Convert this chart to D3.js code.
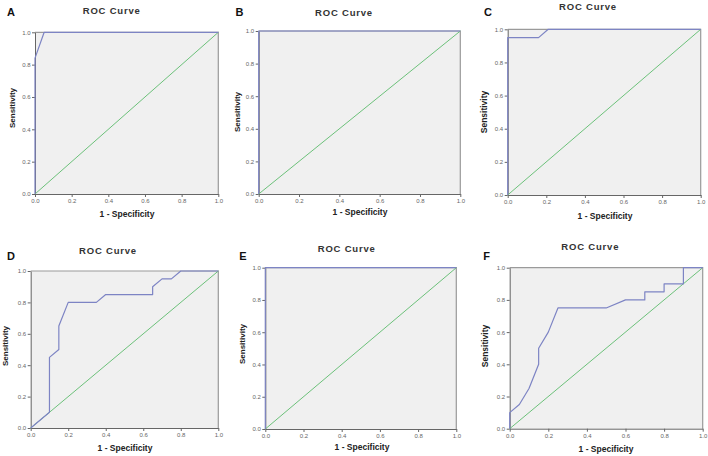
<!DOCTYPE html>
<html>
<head>
<meta charset="utf-8">
<script src="https://cdn.jsdelivr.net/npm/d3@7/dist/d3.min.js"></script>
<style>
  html, body { margin: 0; padding: 0; background: #ffffff; }
  svg { display: block; font-family: Arial, "Liberation Sans", sans-serif; }
</style>
</head>
<body>
<svg id="chart" width="708" height="456"></svg>
<script>
// ---- Data ----
const panelLabels = ["A", "B", "C", "D", "E", "F"];
const chartTitle = "ROC Curve";
const xAxisTitle = "1 - Specificity";
const yAxisTitle = "Sensitivity";
const tickValues = [0, 0.2, 0.4, 0.6, 0.8, 1.0];
const reference = [[0, 0], [1, 1]];

// ROC curves: [1 - specificity, sensitivity]
const rocA = [[0, 0], [0, 0.84], [0.05, 1], [1, 1]];
const rocB = [[0, 0], [0, 1], [1, 1]];
const rocC = [[0, 0], [0, 0.95], [0.16, 0.95], [0.21, 1], [1, 1]];
const rocD = [[0, 0], [0.1, 0.1], [0.1, 0.45], [0.15, 0.5], [0.15, 0.65], [0.2, 0.8],
              [0.35, 0.8], [0.4, 0.85], [0.65, 0.85], [0.65, 0.9], [0.7, 0.95],
              [0.75, 0.95], [0.8, 1], [1, 1]];
const rocE = [[0, 0], [0, 1], [1, 1]];
const rocF = [[0, 0], [0, 0.1], [0.05, 0.15], [0.1, 0.25], [0.15, 0.4], [0.15, 0.5],
              [0.2, 0.6], [0.25, 0.75], [0.5, 0.75], [0.6, 0.8], [0.7, 0.8], [0.7, 0.85],
              [0.8, 0.85], [0.8, 0.9], [0.9, 0.9], [0.9, 1], [1, 1]];
const rocCurves = [rocA, rocB, rocC, rocD, rocE, rocF];

// ---- Layout (per panel) ----
const layout = [
  { l: 35,    r: 218.3, t: 32.3,  b: 194,  title: [111.7, 10],  letter: [11, 12],   xl: [127, 214],  yl: [12, 108],    ys: 8 },
  { l: 258.7, r: 460.3, t: 31,    b: 194,  title: [344, 12],    letter: [239.5, 12], xl: [360, 212],  yl: [237, 112],   ys: 8 },
  { l: 507.7, r: 700.7, t: 29.3,  b: 195,  title: [588, 6.5],   letter: [488, 12],   xl: [605, 216],  yl: [483.7, 112], ys: 8.5 },
  { l: 30.7,  r: 218.3, t: 271,   b: 428,  title: [108, 250],   letter: [11, 256],   xl: [125, 448],  yl: [5, 346],     ys: 8 },
  { l: 265.3, r: 456.3, t: 267.7, b: 429,  title: [346.7, 248], letter: [243, 256],  xl: [362, 446.7], yl: [242.7, 344], ys: 8 },
  { l: 509.7, r: 702.7, t: 267.7, b: 428.7, title: [590.3, 246], letter: [486.5, 255.5], xl: [606, 448.7], yl: [484.7, 346], ys: 8.5 }
];

const svg = d3.select("#chart");
const blue = "#7d84c4";
const green = "#6cc17a";

panelLabels.forEach((lab, i) => {
  const L = layout[i];
  const x = d3.scaleLinear().domain([0, 1]).range([L.l, L.r]);
  const y = d3.scaleLinear().domain([0, 1]).range([L.b, L.t]);
  const g = svg.append("g");

  // plot background
  g.append("rect")
    .attr("x", x(0)).attr("y", y(1))
    .attr("width", x(1) - x(0)).attr("height", y(0) - y(1))
    .attr("fill", "#f0f0f0");
  // top and right frame
  g.append("path")
    .attr("d", `M${x(0)},${y(1)}H${x(1)}V${y(0)}`)
    .attr("fill", "none").attr("stroke", "#9a9a9a").attr("stroke-width", 1.2);

  // axes
  const fmt = d3.format(".1f");
  const xAxis = g.append("g").attr("transform", `translate(0,${y(0)})`)
    .call(d3.axisBottom(x).tickValues(tickValues).tickFormat(fmt).tickSize(3).tickSizeOuter(0));
  const yAxis = g.append("g").attr("transform", `translate(${x(0)},0)`)
    .call(d3.axisLeft(y).tickValues(tickValues).tickFormat(fmt).tickSize(3).tickSizeOuter(0));
  [xAxis, yAxis].forEach(a => {
    a.select(".domain").attr("stroke", "#666").attr("stroke-width", 1);
    a.selectAll(".tick line").attr("stroke", "#666");
    a.selectAll(".tick text").attr("fill", "#666").style("font-size", "6px")
      .style("font-family", "Arial, 'Liberation Sans', sans-serif");
  });
  xAxis.selectAll(".tick text").attr("dy", "0.9em").attr("y", 4);
  yAxis.selectAll(".tick text").attr("x", -4.5);

  // reference diagonal
  const line = d3.line().x(d => x(d[0])).y(d => y(d[1]));
  g.append("path").datum(reference).attr("d", line)
    .attr("fill", "none").attr("stroke", green).attr("stroke-width", 1);
  // ROC curve
  g.append("path").datum(rocCurves[i]).attr("d", line)
    .attr("fill", "none").attr("stroke", blue).attr("stroke-width", 1.2)
    .attr("stroke-linejoin", "round");

  // title
  g.append("text").attr("x", L.title[0]).attr("y", L.title[1])
    .attr("text-anchor", "middle").attr("dominant-baseline", "central")
    .style("font-size", "9.5px").style("font-weight", "bold").style("letter-spacing", "0.8px")
    .attr("fill", "#333").text(chartTitle);
  // panel letter
  g.append("text").attr("x", L.letter[0]).attr("y", L.letter[1])
    .attr("text-anchor", "middle").attr("dominant-baseline", "central")
    .style("font-size", "11px").style("font-weight", "bold")
    .attr("fill", "#111").text(lab);
  // x-axis title
  g.append("text").attr("x", L.xl[0]).attr("y", L.xl[1])
    .attr("text-anchor", "middle").attr("dominant-baseline", "central")
    .style("font-size", "8.5px").style("font-weight", "bold")
    .attr("fill", "#222").text(xAxisTitle);
  // y-axis title
  g.append("text")
    .attr("transform", `translate(${L.yl[0]},${L.yl[1]}) rotate(-90)`)
    .attr("text-anchor", "middle").attr("dominant-baseline", "central")
    .style("font-size", L.ys + "px").style("font-weight", "bold")
    .attr("fill", "#222").text(yAxisTitle);
});
</script>
</body>
</html>
